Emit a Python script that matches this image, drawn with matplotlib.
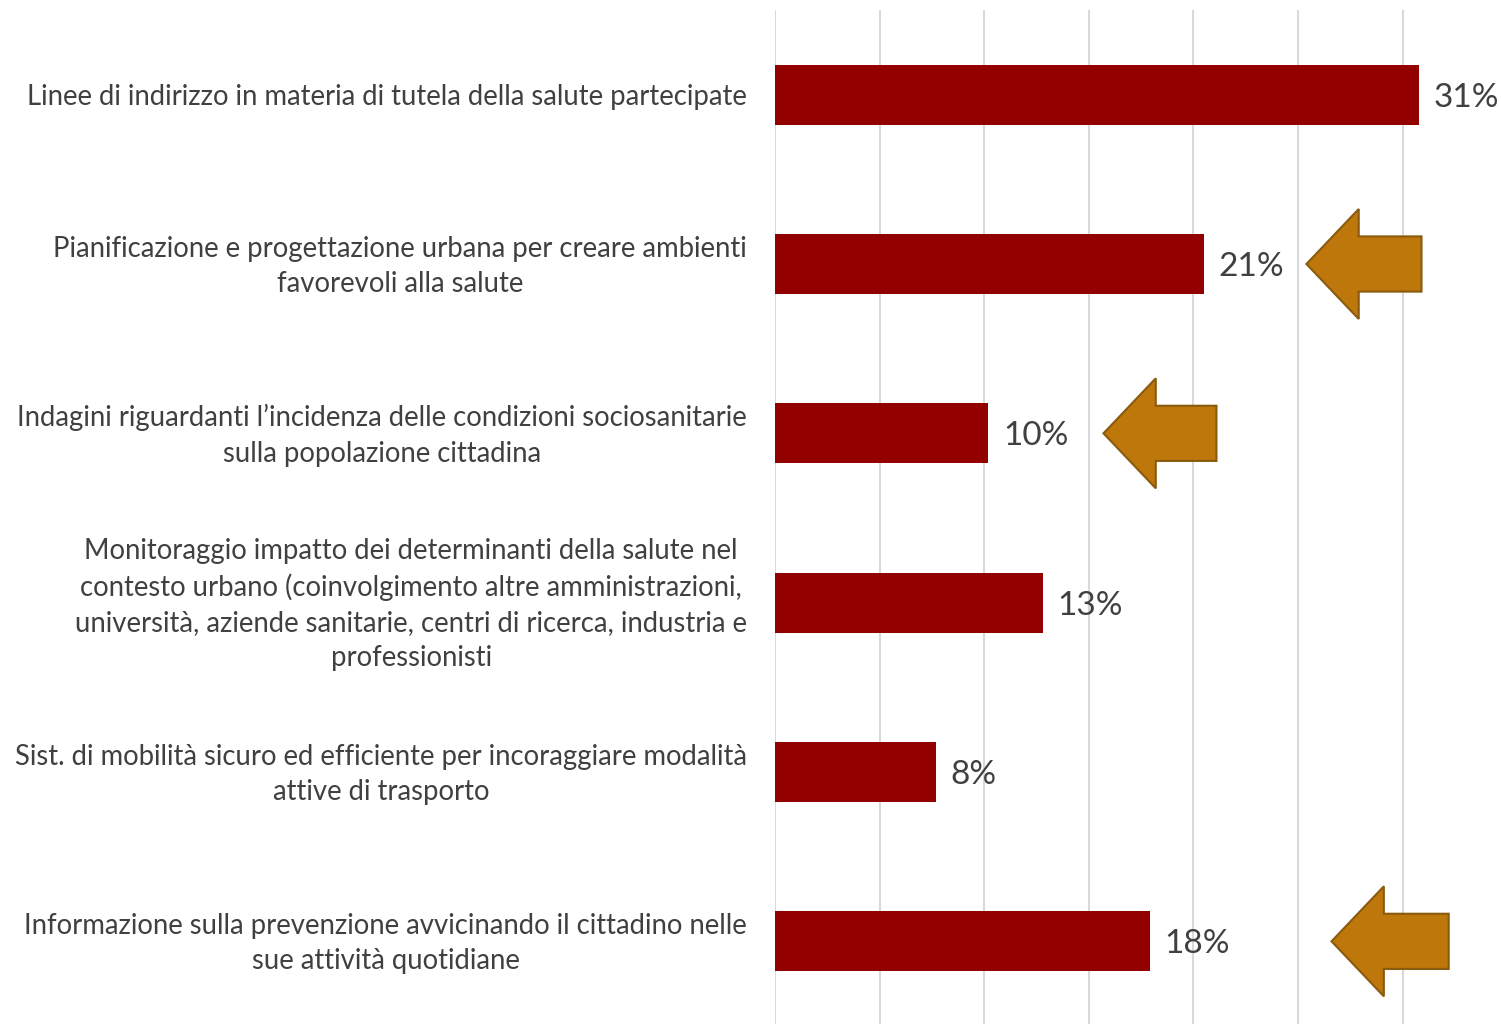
import matplotlib
matplotlib.use("Agg")
import matplotlib.pyplot as plt
from matplotlib.patches import Polygon
from matplotlib.transforms import ScaledTranslation

categories = [
    "Linee di indirizzo in materia di tutela della salute partecipate",
    "Pianificazione e progettazione urbana per creare ambienti\nfavorevoli alla salute",
    "Indagini riguardanti l\u2019incidenza delle condizioni sociosanitarie\nsulla popolazione cittadina",
    "Monitoraggio impatto dei determinanti della salute nel\ncontesto urbano (coinvolgimento altre amministrazioni,\nuniversit\u00e0, aziende sanitarie, centri di ricerca, industria e\nprofessionisti",
    "Sist. di mobilit\u00e0 sicuro ed efficiente per incoraggiare modalit\u00e0\nattive di trasporto",
    "Informazione sulla prevenzione avvicinando il cittadino nelle\nsue attivit\u00e0 quotidiane",
]
values = [30.8, 20.5, 10.2, 12.8, 7.7, 17.9]
value_labels = ["31%", "21%", "10%", "13%", "8%", "18%"]

# highlight arrows: row index, tip x, head-base x, right x (in % units)
arrow_rows = [1, 2, 5]
arrow_tip = [25.4, 15.7, 26.6]
arrow_neck = [27.9, 18.2, 29.1]
arrow_end = [30.9, 21.1, 32.2]

plt.rcParams['font.family'] = ['Lato', 'DejaVu Sans']

fig = plt.figure(figsize=(15.01, 10.24), dpi=100)
ax = fig.add_axes([775/1501, -2/1024, (1501-775)/1501, (1014+2)/1024])

bar_color = "#920000"
ypos = list(range(len(categories)))
ax.barh(ypos, values, height=0.355, color=bar_color, zorder=2)

ax.set_xlim(0, 34.7)
ax.set_ylim(5.5, -0.5)
ax.set_xticks([0, 5, 10, 15, 20, 25, 30])
ax.xaxis.grid(True, color="#D9D9D9", linewidth=1.5, zorder=0)
ax.set_axisbelow(True)
ax.tick_params(axis='x', length=0, labelbottom=False)
ax.tick_params(axis='y', length=0)
for s in ax.spines.values():
    s.set_visible(False)

ax.set_yticks(ypos)
ax.set_yticklabels(categories, fontsize=19.8, color="#404040",
                   multialignment='center', linespacing=1.43)
ax.tick_params(axis='y', pad=20)
up = ScaledTranslation(0, 5/100, fig.dpi_scale_trans)
for lbl in ax.get_yticklabels():
    if "\n" in lbl.get_text():
        lbl.set_transform(lbl.get_transform() + up)

down = ScaledTranslation(0, -3/100, fig.dpi_scale_trans)
for y, v, lab in zip(ypos, values, value_labels):
    ax.text(v + 0.7, y, lab, va='center', ha='left', fontsize=24,
            color="#404040", transform=ax.transData + down)

bh = 0.325
bb = 0.163
for r, t, n, e in zip(arrow_rows, arrow_tip, arrow_neck, arrow_end):
    pts = [(t, r), (n, r - bh), (n, r - bb), (e, r - bb),
           (e, r + bb), (n, r + bb), (n, r + bh)]
    ax.add_patch(Polygon(pts, closed=True, facecolor="#BD770B",
                         edgecolor="#8A5A0E", linewidth=1.5, zorder=3))

fig.savefig("out.png", dpi=100)
